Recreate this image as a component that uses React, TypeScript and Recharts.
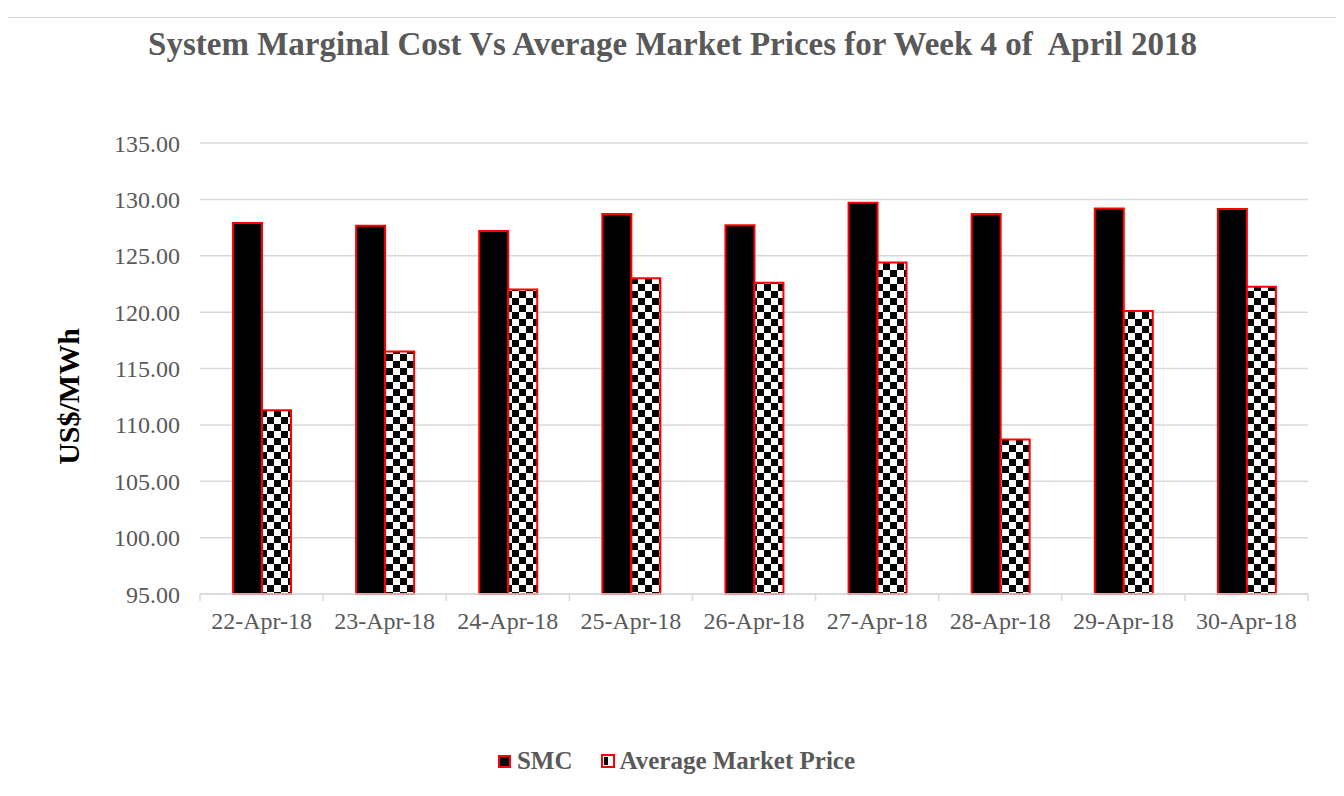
import React from 'react'
import { BarChart, Bar, XAxis, YAxis, CartesianGrid, Legend } from 'recharts'

// dates on the x axis
const days = ['22-Apr-18', '23-Apr-18', '24-Apr-18', '25-Apr-18', '26-Apr-18', '27-Apr-18', '28-Apr-18', '29-Apr-18', '30-Apr-18']
// system marginal cost, US$/MWh
const smc = [127.9, 127.65, 127.2, 128.7, 127.7, 129.7, 128.7, 129.2, 129.15]
// average market price, US$/MWh
const avgPrice = [111.3, 116.5, 122.0, 123.0, 122.6, 124.4, 108.7, 120.1, 122.25]
const yTicks = [95, 100, 105, 110, 115, 120, 125, 130, 135]

const data = days.map((day, i) => ({ day, smc: smc[i], avg: avgPrice[i] }))

const W = 1329
const H = 770
const PLOT_LEFT = 192
const PLOT_RIGHT = 29
const band = (W - PLOT_LEFT - PLOT_RIGHT) / days.length
const serif = '"Liberation Serif", "DejaVu Serif", serif'
const grey = '#595959'

const XTick = (props: any) => {
  const { x, y, index } = props
  return (
    <g>
      <line x1={x - band / 2} x2={x - band / 2} y1={y} y2={y + 7} stroke="#d9d9d9" strokeWidth={1.5} />
      {index === days.length - 1 && (
        <line x1={x + band / 2} x2={x + band / 2} y1={y} y2={y + 7} stroke="#d9d9d9" strokeWidth={1.5} />
      )}
      <text x={x} y={y + 35} textAnchor="middle" fill={grey} fontSize={24} fontFamily={serif}>
        {props.payload.value}
      </text>
    </g>
  )
}

const YLabel = (props: any) => {
  const vb = props.viewBox
  const cx = 60
  const cy = vb.y + vb.height / 2 + 28
  return (
    <text x={cx} y={cy} transform={`rotate(-90 ${cx} ${cy})`} textAnchor="middle" dominantBaseline="central"
      fontSize={30} fontWeight="bold" fontFamily={serif} fill="#000">
      US$/MWh
    </text>
  )
}

const LegendBox = () => (
  <div style={{ display: 'flex', justifyContent: 'center', alignItems: 'center', paddingLeft: 8, fontFamily: serif, fontWeight: 'bold', fontSize: 25, color: grey }}>
    <svg width={13} height={13} style={{ marginRight: 6 }}>
      <rect x={1} y={1} width={11} height={11} fill="#000" stroke="#ff0000" strokeWidth={2} />
    </svg>
    <span style={{ marginRight: 28 }}>SMC</span>
    <svg width={14} height={14} style={{ marginRight: 5 }}>
      <rect x={1} y={1} width={12} height={12} fill="#fff" stroke="#ff0000" strokeWidth={2} />
      <rect x={3} y={3} width={4} height={8} fill="#000" />
    </svg>
    <span>Average Market Price</span>
  </div>
)

export default function App() {
  return (
    <div style={{ position: 'relative', marginTop: 9, marginLeft: -1, width: 1331, height: 790, border: '1px solid #d9d9d9', boxSizing: 'border-box', background: '#fff' }}>
      <svg width={0} height={0} style={{ position: 'absolute' }}>
        <defs>
          <pattern id="checker" width={14} height={14} patternUnits="userSpaceOnUse">
            <rect width={14} height={14} fill="#fff" />
            <rect width={7} height={7} fill="#000" />
            <rect x={7} y={7} width={7} height={7} fill="#000" />
          </pattern>
        </defs>
      </svg>
      <div style={{ position: 'absolute', top: 8, left: 0, width: W, textAlign: 'center', fontFamily: serif, fontWeight: 'bold', fontSize: 33, color: grey }}>
        System Marginal Cost Vs Average Market Prices for Week 4 of&nbsp; April 2018
      </div>
      <BarChart width={W} height={H} data={data} margin={{ top: 125, right: PLOT_RIGHT, bottom: 154, left: 0 }} barGap={0} barSize={29}>
        <CartesianGrid vertical={false} stroke="#d9d9d9" strokeWidth={1.5} />
        <XAxis dataKey="day" axisLine={{ stroke: '#d9d9d9', strokeWidth: 1.5 }} tickLine={false} tickSize={0} tickMargin={0} height={40} tick={<XTick />} interval={0} />
        <YAxis domain={[95, 135]} ticks={yTicks} width={PLOT_LEFT} axisLine={false} tickLine={false} tickMargin={14}
          tickFormatter={(v: number) => v.toFixed(2)} tick={{ fill: grey, fontSize: 24, fontFamily: serif }}
          label={<YLabel />} />
        <Legend layout="horizontal" verticalAlign="middle" align="center" content={<LegendBox />}
          wrapperStyle={{ top: 729, left: 0, width: W }} />
        <Bar dataKey="smc" name="SMC" fill="#000" stroke="#ff0000" strokeWidth={2} isAnimationActive={false} />
        <Bar dataKey="avg" name="Average Market Price" fill="url(#checker)" stroke="#ff0000" strokeWidth={2} isAnimationActive={false} />
      </BarChart>
    </div>
  )
}
